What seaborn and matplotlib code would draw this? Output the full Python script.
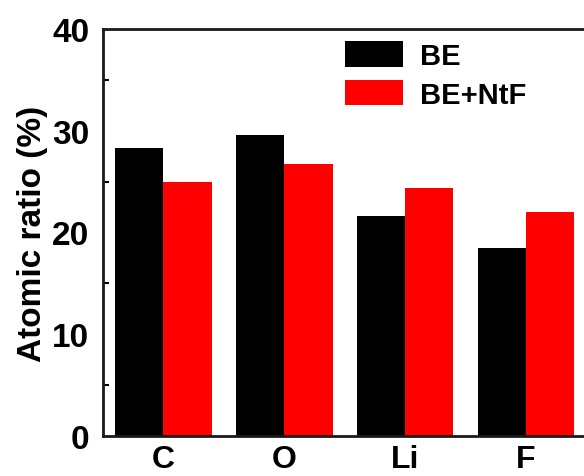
import matplotlib
matplotlib.use("Agg")
import matplotlib.pyplot as plt
import seaborn as sns
import pandas as pd
from matplotlib.ticker import MultipleLocator

# Atomic ratios
elements = ["C", "O", "Li", "F"]
be = [28.3, 29.55, 21.65, 18.5]
be_ntf = [25.0, 26.7, 24.4, 22.0]
series = ["BE", "BE+NtF"]


def main():
    df = pd.DataFrame({
        "element": elements * 2,
        "ratio": be + be_ntf,
        "group": [series[0]] * len(elements) + [series[1]] * len(elements),
    })

    sns.set_style("white")
    plt.rcParams["font.family"] = ["Liberation Sans", "DejaVu Sans"]
    plt.rcParams["font.weight"] = "bold"
    plt.rcParams["text.color"] = "black"
    plt.rcParams["axes.labelcolor"] = "black"
    plt.rcParams["xtick.color"] = "black"
    plt.rcParams["ytick.color"] = "black"

    fig = plt.figure(figsize=(5.84, 4.77), dpi=100)
    ax = fig.add_axes([0.1764, 0.0839, 0.8277, 0.8532])

    sns.barplot(data=df, x="element", y="ratio", hue="group",
                palette={"BE": "#000000", "BE+NtF": "#ff0000"},
                width=0.8, linewidth=0, saturation=1, ax=ax)

    ax.set_xlim(-0.5, 3.5)
    ax.set_ylim(0, 40)
    ax.yaxis.set_major_locator(MultipleLocator(10))
    ax.yaxis.set_minor_locator(MultipleLocator(5))
    ax.set_xlabel("")
    ax.set_ylabel("Atomic ratio (%)", fontsize=24, fontweight="bold", labelpad=3)

    ax.tick_params(axis="y", which="major", length=0, pad=10, labelsize=24)
    ax.tick_params(axis="y", which="minor", direction="in", length=4, width=1.5, left=True)
    ax.tick_params(axis="x", length=0, pad=6, labelsize=23)
    for lab in ax.get_xticklabels() + ax.get_yticklabels():
        lab.set_fontweight("bold")

    for side in ["left", "bottom", "top", "right"]:
        ax.spines[side].set_visible(True)
        ax.spines[side].set_linewidth(2)
        ax.spines[side].set_color("#1a1a1a")

    ax.legend(loc="upper left", bbox_to_anchor=(0.5, 0.97), frameon=False,
              borderaxespad=0, borderpad=0, handlelength=2.0, handleheight=0.96,
              handletextpad=0.57, labelspacing=0.35,
              prop={"size": 21, "weight": "bold"})

    fig.savefig("out.png", dpi=100)
    plt.close(fig)


if __name__ == "__main__":
    main()
